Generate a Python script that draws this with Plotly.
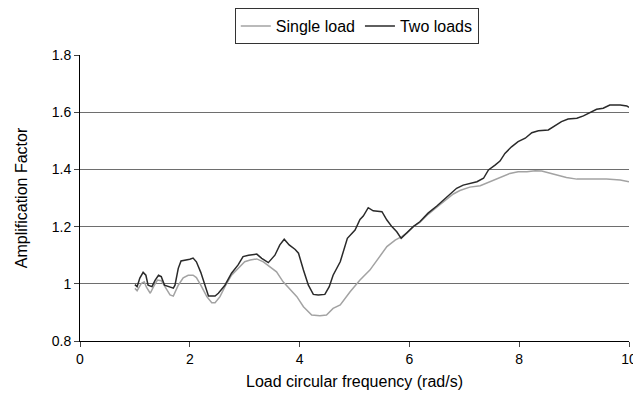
import plotly.graph_objects as go

# Load circular frequency (rad/s) and amplification factor
single_x = [1.0, 1.04, 1.12, 1.17, 1.21, 1.28, 1.34, 1.41, 1.48, 1.55, 1.64, 1.70, 1.79, 1.88,
            1.97, 2.06, 2.12, 2.20, 2.31, 2.40, 2.46, 2.55, 2.64, 2.76, 2.88, 3.0, 3.10, 3.22,
            3.34, 3.46, 3.58, 3.70, 3.83, 3.95, 4.07, 4.22, 4.37, 4.49, 4.61, 4.74, 4.92, 5.10,
            5.28, 5.43, 5.59, 5.74, 5.86, 5.95, 6.07, 6.19, 6.34, 6.50, 6.68, 6.80, 6.92, 7.10,
            7.29, 7.47, 7.65, 7.83, 7.98, 8.14, 8.29, 8.41, 8.53, 8.68, 8.86, 9.05, 9.29, 9.59,
            9.84, 10.0]
single_y = [0.984, 0.976, 1.002, 1.007, 0.988, 0.967, 0.99, 1.013, 1.011, 0.99, 0.961, 0.957,
            0.995, 1.021, 1.03, 1.03, 1.022, 0.995, 0.955, 0.934, 0.934, 0.955, 0.99, 1.03,
            1.054, 1.077, 1.083, 1.087, 1.077, 1.06, 1.042, 1.007, 0.978, 0.955, 0.92, 0.891,
            0.888, 0.891, 0.914, 0.926, 0.972, 1.013, 1.048, 1.089, 1.13, 1.153, 1.165, 1.177,
            1.20, 1.215, 1.243, 1.268, 1.297, 1.314, 1.326, 1.338, 1.343, 1.357, 1.372, 1.386,
            1.392, 1.392, 1.395, 1.394, 1.388, 1.38, 1.372, 1.366, 1.366, 1.366, 1.363, 1.357]

two_x = [1.0, 1.04, 1.09, 1.15, 1.20, 1.24, 1.31, 1.37, 1.43, 1.48, 1.54, 1.61, 1.70, 1.73,
         1.79, 1.84, 1.94, 2.0, 2.06, 2.12, 2.20, 2.28, 2.34, 2.46, 2.52, 2.64, 2.76, 2.88,
         2.97, 3.07, 3.16, 3.22, 3.31, 3.43, 3.55, 3.64, 3.72, 3.81, 3.92, 3.98, 4.07, 4.16,
         4.25, 4.34, 4.46, 4.54, 4.61, 4.74, 4.87, 5.01, 5.10, 5.16, 5.25, 5.34, 5.50, 5.59,
         5.68, 5.77, 5.85, 5.95, 6.07, 6.19, 6.34, 6.50, 6.62, 6.74, 6.86, 6.98, 7.10, 7.23,
         7.35, 7.44, 7.56, 7.65, 7.74, 7.86, 7.98, 8.11, 8.23, 8.35, 8.53, 8.62, 8.77, 8.89,
         9.05, 9.17, 9.29, 9.41, 9.53, 9.65, 9.84, 9.96, 10.0]
two_y = [0.997, 0.99, 1.02, 1.04, 1.03, 0.995, 0.99, 1.013, 1.03, 1.025, 0.995, 0.99, 0.985,
         0.995, 1.054, 1.08, 1.083, 1.086, 1.09, 1.077, 1.04, 0.995, 0.957, 0.957, 0.967,
         0.995, 1.037, 1.066, 1.095, 1.10, 1.104, 1.104, 1.089, 1.074, 1.10, 1.136, 1.156,
         1.136, 1.12, 1.107, 1.048, 0.995, 0.963, 0.961, 0.963, 0.99, 1.03, 1.077, 1.159,
         1.188, 1.225, 1.237, 1.266, 1.255, 1.252, 1.223, 1.20, 1.182, 1.159, 1.177, 1.20,
         1.217, 1.247, 1.272, 1.293, 1.316, 1.334, 1.345, 1.351, 1.357, 1.369, 1.398, 1.415,
         1.429, 1.456, 1.479, 1.497, 1.509, 1.528, 1.535, 1.538, 1.549, 1.567, 1.576, 1.579,
         1.587, 1.598, 1.61, 1.614, 1.625, 1.625, 1.622, 1.617]

y_ticks = [0.8, 1.0, 1.2, 1.4, 1.6, 1.8]
y_labels = ['0.8', '1', '1.2', '1.4', '1.6', '1.8']
x_ticks = [0, 2, 4, 6, 8, 10]

fig = go.Figure()
fig.add_trace(go.Scatter(x=single_x, y=single_y, mode='lines', name='Single load',
                         line=dict(color='#a3a3a3', width=1.5)))
fig.add_trace(go.Scatter(x=two_x, y=two_y, mode='lines', name='Two loads',
                         line=dict(color='#2a2a2a', width=1.5)))

# the page has an 8px body margin, so shift everything up/left by 8px
fig.update_layout(
    width=633, height=396,
    margin=dict(l=72, r=12, t=47, b=63),
    plot_bgcolor='white',
    paper_bgcolor='white',
    font=dict(family='Liberation Sans, Arial, sans-serif', size=14, color='black'),
    legend=dict(orientation='h', xref='container', yref='container',
                x=0.551, xanchor='center', y=1.0, yanchor='top',
                bordercolor='#333333', borderwidth=1, font=dict(size=16),
                itemwidth=30, tracegroupgap=0),
    xaxis=dict(range=[0, 10], tickvals=x_ticks, ticks='outside', ticklen=5,
               showline=True, linecolor='black', linewidth=1, showgrid=False,
               zeroline=False, automargin=False, ticklabeloverflow='allow',
               title=dict(text='Load circular frequency (rad/s)',
                          font=dict(size=16), standoff=10)),
    yaxis=dict(range=[0.8, 1.8], tickvals=y_ticks, ticktext=y_labels, ticks='outside',
               ticklen=5, showline=True, linecolor='black', linewidth=1,
               showgrid=True, gridcolor='#6e6e6e', gridwidth=1, zeroline=False,
               automargin=False,
               title=dict(text='Amplification Factor', font=dict(size=16), standoff=20)),
)

fig.write_html("out.html")
